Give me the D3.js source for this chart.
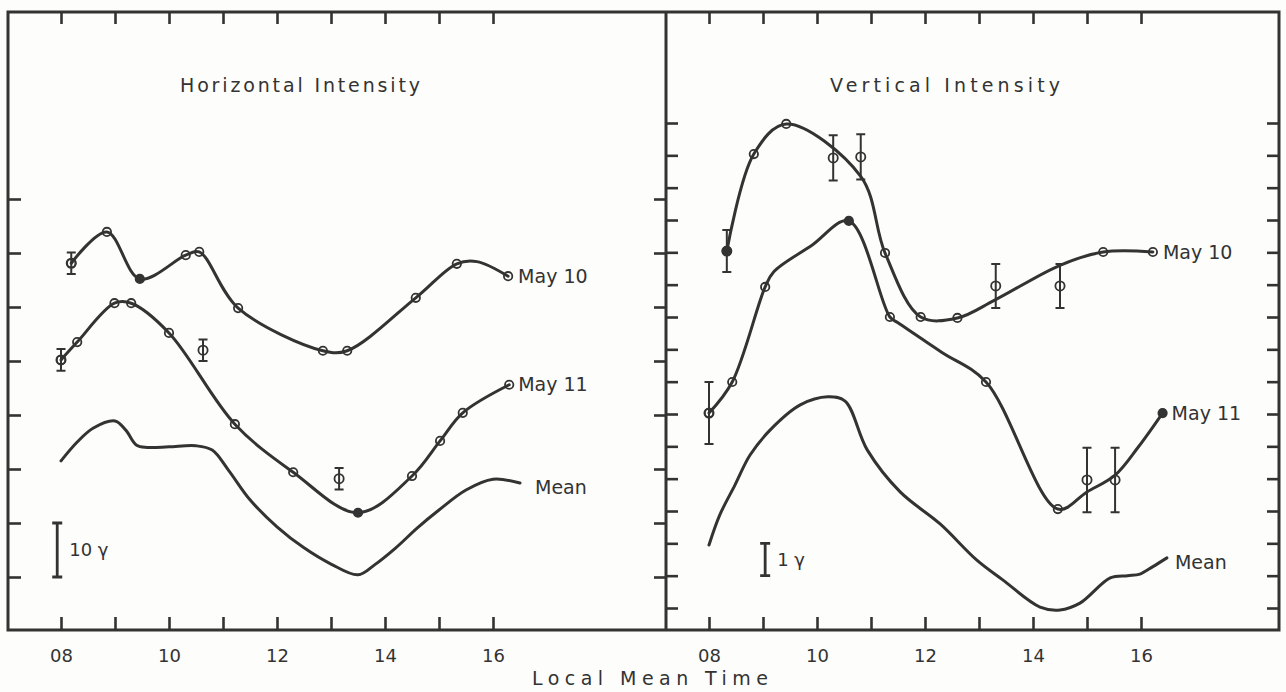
<!DOCTYPE html>
<html><head><meta charset="utf-8">
<script src="https://cdn.jsdelivr.net/npm/d3@7"></script>
<style>html,body{margin:0;padding:0;background:#fdfdfb;} svg{display:block;}</style>
</head><body>
<svg id="chart" width="1286" height="692"></svg>
<script>
// ---------- DATA ----------
const hourTicks = [8, 9, 10, 11, 12, 13, 14, 15, 16];
const hourLabels = {8: "08", 10: "10", 12: "12", 14: "14", 16: "16"};
const hTickValues = [0, 10, 20, 30, 40, 50, 60, 70];            // gamma, left panel
const vTickValues = d3.range(0, 16);                            // gamma, right panel

// Horizontal intensity (gamma, arbitrary offset). marks: 0 knot only, 1 open circle, 2 filled circle
const hMay10Hours  = [8.19, 8.85, 9.46, 10.31, 10.56, 11.28, 12.85, 13.3, 14.57, 15.33, 15.7, 16.28];
const hMay10Values = [58.1, 63.9, 55.2, 59.6, 60.2, 49.8, 41.9, 41.9, 51.7, 58.0, 58.4, 55.7];
const hMay10Marks  = [1, 1, 2, 1, 1, 1, 1, 1, 1, 1, 0, 1];

const hMay11Hours  = [8.0, 8.3, 8.99, 9.3, 10.0, 11.22, 12.3, 13.5, 14.5, 15.02, 15.44, 16.3];
const hMay11Values = [40.2, 43.5, 50.7, 50.7, 45.2, 28.3, 19.4, 11.9, 18.7, 25.2, 30.4, 35.6];
const hMay11Marks  = [1, 1, 1, 1, 1, 1, 1, 2, 1, 1, 1, 1];

const hMeanHours  = [8.0, 8.3, 8.6, 9.0, 9.2, 9.4, 9.6, 10.0, 10.5, 10.8, 11.1, 11.5, 12.0, 12.5, 13.0, 13.5, 13.8, 14.2, 14.6, 15.0, 15.5, 16.0, 16.5];
const hMeanValues = [21.5, 25.0, 27.6, 28.9, 27.2, 24.4, 24.0, 24.1, 24.3, 23.5, 19.8, 14.3, 9.3, 5.4, 2.4, 0.4, 2.2, 5.4, 9.1, 12.4, 16.1, 18.1, 17.4];

const hErrHours  = [8.19, 8.0, 10.63, 13.15];
const hErrValues = [58.1, 40.2, 42.0, 18.2];
const hErrHalf   = [2.0, 2.0, 2.0, 2.0];

// Vertical intensity (gamma, arbitrary offset)
const vMay10Hours  = [8.33, 8.83, 9.43, 10.81, 11.26, 11.92, 12.6, 13.3, 14.5, 15.3, 16.22];
const vMay10Values = [11.04, 14.04, 14.97, 13.35, 10.98, 9.0, 8.97, 9.53, 10.6, 11.01, 11.01];
const vMay10Marks  = [2, 1, 1, 0, 1, 1, 1, 0, 0, 1, 1];

const vMay11Hours  = [8.0, 8.43, 9.04, 9.2, 9.9, 10.59, 11.35, 11.5, 12.3, 13.13, 14.46, 15.0, 15.52, 15.95, 16.4];
const vMay11Values = [6.03, 6.99, 9.93, 10.4, 11.21, 11.97, 9.0, 8.82, 7.92, 6.99, 3.06, 3.59, 4.11, 4.98, 6.03];
const vMay11Marks  = [1, 1, 1, 0, 0, 2, 1, 0, 0, 1, 1, 0, 0, 0, 2];

const vMeanHours  = [8.0, 8.2, 8.48, 8.76, 9.13, 9.69, 10.2, 10.52, 10.93, 11.54, 12.28, 12.96, 13.44, 14.13, 14.5, 14.87, 15.43, 15.75, 15.98, 16.22, 16.48];
const vMeanValues = [1.95, 2.88, 3.8, 4.73, 5.5, 6.28, 6.53, 6.4, 4.89, 3.59, 2.6, 1.48, 0.87, 0.03, -0.06, 0.15, 0.93, 1.0, 1.05, 1.28, 1.55];

const vErrHours  = [8.33, 8.0, 10.3, 10.81, 13.31, 14.5, 15.0, 15.52];
const vErrValues = [11.04, 6.03, 13.92, 13.95, 9.96, 9.96, 3.96, 3.96];
const vErrHalf   = [0.65, 0.96, 0.7, 0.7, 0.68, 0.68, 1.0, 1.0];

// ---------- DRAW ----------
const ink = "#333333";
const font = "'DejaVu Sans', sans-serif";
const svg = d3.select("#chart");
svg.append("rect").attr("width", 1286).attr("height", 692).attr("fill", "#fdfdfb");

const frame = {left: 8, mid: 666, right: 1279, top: 12, bottom: 630};

const xL = d3.scaleLinear().domain([8, 16]).range([61, 493]);
const xR = d3.scaleLinear().domain([8, 16]).range([709, 1141]);
const yL = d3.scaleLinear().domain([0, 70]).range([577, 199]);
const yR = d3.scaleLinear().domain([0, 15]).range([608, 123]);

// frame
svg.append("path")
  .attr("d", `M${frame.left},${frame.top}H${frame.right}V${frame.bottom}H${frame.left}Z M${frame.mid},${frame.top}V${frame.bottom}`)
  .attr("fill", "none").attr("stroke", ink).attr("stroke-width", 3);

function styleAxis(g) {
  g.select(".domain").remove();
  g.selectAll(".tick line").attr("stroke", ink).attr("stroke-width", 2.6);
  g.selectAll(".tick text").attr("fill", ink).attr("font-family", font).attr("font-size", 18);
}

[xL, xR].forEach(xs => {
  svg.append("g").attr("transform", `translate(0,${frame.bottom})`)
    .call(d3.axisBottom(xs).tickValues(hourTicks).tickSize(-13).tickPadding(19)
      .tickFormat(h => hourLabels[h] || ""))
    .call(styleAxis);
  svg.append("g").attr("transform", `translate(0,${frame.top})`)
    .call(d3.axisTop(xs).tickValues(hourTicks).tickSize(-12).tickFormat(""))
    .call(styleAxis);
});

svg.append("g").attr("transform", `translate(${frame.left},0)`)
  .call(d3.axisLeft(yL).tickValues(hTickValues).tickSize(-13).tickFormat("")).call(styleAxis);
svg.append("g").attr("transform", `translate(${frame.mid},0)`)
  .call(d3.axisRight(yL).tickValues(hTickValues).tickSize(-12).tickFormat("")).call(styleAxis);
svg.append("g").attr("transform", `translate(${frame.mid},0)`)
  .call(d3.axisLeft(yR).tickValues(vTickValues).tickSize(-12).tickFormat("")).call(styleAxis);
svg.append("g").attr("transform", `translate(${frame.right},0)`)
  .call(d3.axisRight(yR).tickValues(vTickValues).tickSize(-12).tickFormat("")).call(styleAxis);

const zip = (h, v) => h.map((x, i) => [x, v[i]]);

function drawSeries(xs, ys, hours, values, marks, label, lx, ly) {
  const pts = zip(hours, values);
  const line = d3.line().x(d => xs(d[0])).y(d => ys(d[1])).curve(d3.curveCatmullRom.alpha(0.5));
  svg.append("path").attr("d", line(pts)).attr("fill", "none")
    .attr("stroke", ink).attr("stroke-width", 3).attr("stroke-linejoin", "round").attr("stroke-linecap", "round");
  if (marks) {
    const mk = pts.map((d, i) => ({d, m: marks[i]})).filter(o => o.m > 0);
    svg.append("g").selectAll("circle").data(mk).join("circle")
      .attr("cx", o => xs(o.d[0])).attr("cy", o => ys(o.d[1])).attr("r", 4.2)
      .attr("fill", o => o.m === 2 ? ink : "none")
      .attr("stroke", ink).attr("stroke-width", 1.8);
  }
  const last = pts[pts.length - 1];
  svg.append("text").attr("x", xs(last[0]) + lx).attr("y", ys(last[1]) + ly)
    .attr("dy", "0.35em").attr("font-family", font).attr("font-size", 19).attr("fill", ink)
    .text(label);
}

function drawErr(xs, ys, hours, values, half) {
  const data = hours.map((h, i) => ({h, v: values[i], e: half[i]}));
  const g = svg.append("g").attr("stroke", ink).attr("fill", "none").attr("stroke-width", 2);
  g.selectAll("path").data(data).join("path")
    .attr("d", d => {
      const x = xs(d.h), y0 = ys(d.v - d.e), y1 = ys(d.v + d.e);
      return `M${x},${y0}V${y1}M${x - 4.5},${y0}H${x + 4.5}M${x - 4.5},${y1}H${x + 4.5}`;
    });
  g.selectAll("circle").data(data).join("circle")
    .attr("cx", d => xs(d.h)).attr("cy", d => ys(d.v)).attr("r", 4.6).attr("stroke-width", 1.8);
}

drawSeries(xL, yL, hMay10Hours, hMay10Values, hMay10Marks, "May 10", 10, 0);
drawSeries(xL, yL, hMay11Hours, hMay11Values, hMay11Marks, "May 11", 9, 0);
drawSeries(xL, yL, hMeanHours, hMeanValues, null, "Mean", 15, 4);
drawErr(xL, yL, hErrHours, hErrValues, hErrHalf);

drawSeries(xR, yR, vMay10Hours, vMay10Values, vMay10Marks, "May 10", 10, 0);
drawSeries(xR, yR, vMay11Hours, vMay11Values, vMay11Marks, "May 11", 9, 0);
drawSeries(xR, yR, vMeanHours, vMeanValues, null, "Mean", 8, 4);
drawErr(xR, yR, vErrHours, vErrValues, vErrHalf);

// scale bars
function scaleBar(xs, ys, h, v0, v1, label) {
  const x = xs(h), y0 = ys(v0), y1 = ys(v1);
  svg.append("path").attr("d", `M${x},${y0}V${y1}M${x - 5},${y0}H${x + 5}M${x - 5},${y1}H${x + 5}`)
    .attr("stroke", ink).attr("stroke-width", 2.8).attr("fill", "none");
  svg.append("text").attr("x", x + 12).attr("y", (y0 + y1) / 2).attr("dy", "0.35em")
    .attr("font-family", font).attr("font-size", 18).attr("fill", ink).text(label);
}
scaleBar(xL, yL, 7.93, 0, 10, "10 γ");
scaleBar(xR, yR, 9.04, 1, 2, "1 γ");

// titles
function title(x, y, len, size, txt) {
  svg.append("text").attr("x", x).attr("y", y).attr("textLength", len).attr("lengthAdjust", "spacing")
    .attr("font-family", font).attr("font-size", size).attr("fill", ink).text(txt);
}
title(180, 92, 240, 19, "Horizontal Intensity");
title(830, 92, 230, 19, "Vertical Intensity");
title(532, 685, 236, 19, "Local  Mean  Time");
</script>
</body></html>
